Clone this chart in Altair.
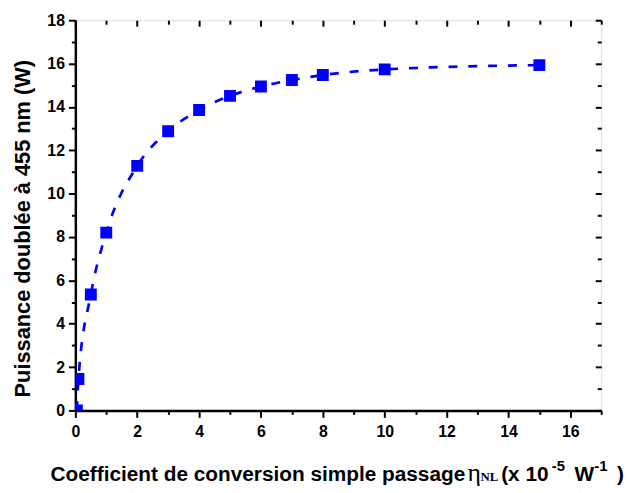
import altair as alt
import pandas as pd

x_vals = [0.05, 0.1, 0.5, 1, 2, 3, 4, 5, 6, 7, 8, 10, 15]
y_vals = [0.0, 1.45, 5.35, 8.2, 11.28, 12.88, 13.86, 14.51, 14.94, 15.24, 15.47, 15.73, 15.93]

x_major = [0, 2, 4, 6, 8, 10, 12, 14, 16]
x_minor = [1, 3, 5, 7, 9, 11, 13, 15, 17]
y_major = [0, 2, 4, 6, 8, 10, 12, 14, 16, 18]
y_minor = [1, 3, 5, 7, 9, 11, 13, 15, 17]

y_title = "Puissance doublée à 455 nm (W)"
x_title_main = "Coefficient de conversion simple passage"
x_title_eta = "η"
x_title_nl = "NL"
x_title_unit1 = "(x 10"
x_title_sup1 = "-5"
x_title_unit2 = "W"
x_title_sup2 = "-1"
x_title_unit3 = ")"

df = pd.DataFrame({"x": x_vals, "y": y_vals})

FONT = "Liberation Sans"
SERIF = "Liberation Serif"
xs = alt.Scale(domain=[0, 17], nice=False, zero=False)
ys = alt.Scale(domain=[0, 18], nice=False, zero=False)


def plain_axis(orient, values, size, offset=0):
    return alt.Axis(
        orient=orient, values=values, tickSize=size, tickWidth=2, tickColor="black",
        labels=False, grid=False, domain=False, offset=offset, title=None,
    )


base = alt.Chart(df)

line = base.mark_line(
    color="#0000ff", strokeWidth=2.7, strokeDash=[9, 11], interpolate="monotone", clip=True
).encode(
    x=alt.X("x:Q", scale=xs,
            axis=alt.Axis(orient="bottom", values=x_major, tickSize=7, tickWidth=2, tickColor="black",
                          labels=True, grid=False, domain=True, domainColor="black", domainWidth=2.5,
                          labelFont=FONT, labelFontSize=16, labelFontWeight="bold", labelColor="black",
                          labelPadding=6, labelFlush=False, title=None)),
    y=alt.Y("y:Q", scale=ys, title=y_title,
            axis=alt.Axis(orient="left", values=y_major, tickSize=7, tickWidth=2, tickColor="black",
                          labels=True, grid=False, domain=True, domainColor="black", domainWidth=2.5,
                          labelFont=FONT, labelFontSize=16, labelFontWeight="bold", labelColor="black",
                          labelPadding=4, labelFlush=False,
                          titleFont=FONT, titleFontSize=22, titleFontWeight="bold", titleColor="black",
                          titlePadding=12, titleY=210)),
)

points = base.mark_square(color="#0000ff", size=144, opacity=1, clip=True).encode(
    x=alt.X("x:Q", scale=xs, axis=plain_axis("bottom", x_minor, 4)),
    y=alt.Y("y:Q", scale=ys, axis=plain_axis("left", y_minor, 4)),
)


def tick_layer(xaxis, yaxis):
    return base.mark_point(opacity=0).encode(
        x=alt.X("x:Q", scale=xs, axis=xaxis),
        y=alt.Y("y:Q", scale=ys, axis=yaxis),
    )


t1 = tick_layer(plain_axis("top", x_major, 6, offset=-6), plain_axis("right", y_major, 6, offset=-6))
t2 = tick_layer(plain_axis("top", x_minor, 4, offset=-4), plain_axis("right", y_minor, 4, offset=-4))

# x-axis title pieces (positions in plot pixels, baseline)
BASE_Y = 465
SUP_Y = 455


def title_piece(text, x, y, font, size, weight="bold"):
    return alt.Chart(pd.DataFrame({"t": [text]})).mark_text(
        font=font, fontSize=size, fontWeight=weight, color="black",
        align="left", baseline="alphabetic",
    ).encode(text="t:N", x=alt.value(x), y=alt.value(y))


pieces = [
    title_piece(x_title_main, -25, BASE_Y, FONT, 21),
    title_piece(x_title_eta, 396, BASE_Y, SERIF, 26, "normal"),
    title_piece(x_title_nl, 409, BASE_Y, SERIF, 13),
    title_piece(x_title_unit1, 430, BASE_Y, FONT, 21),
    title_piece(x_title_sup1, 481, SUP_Y, FONT, 15),
    title_piece(x_title_unit2, 504, BASE_Y, FONT, 21),
    title_piece(x_title_sup2, 524, SUP_Y, FONT, 15),
    title_piece(x_title_unit3, 547, BASE_Y, FONT, 21),
]

chart = alt.layer(line, points, t1, t2, *pieces).resolve_axis(
    x="independent", y="independent"
).resolve_scale(x="shared", y="shared").properties(
    width=531, height=394,
    autosize="none",
    padding={"left": 68, "top": 10, "right": 24, "bottom": 76},
).configure_view(stroke="black", strokeWidth=2.5).configure(background="white")

chart.save("out.html", embed_options={"renderer": "svg", "actions": False})
